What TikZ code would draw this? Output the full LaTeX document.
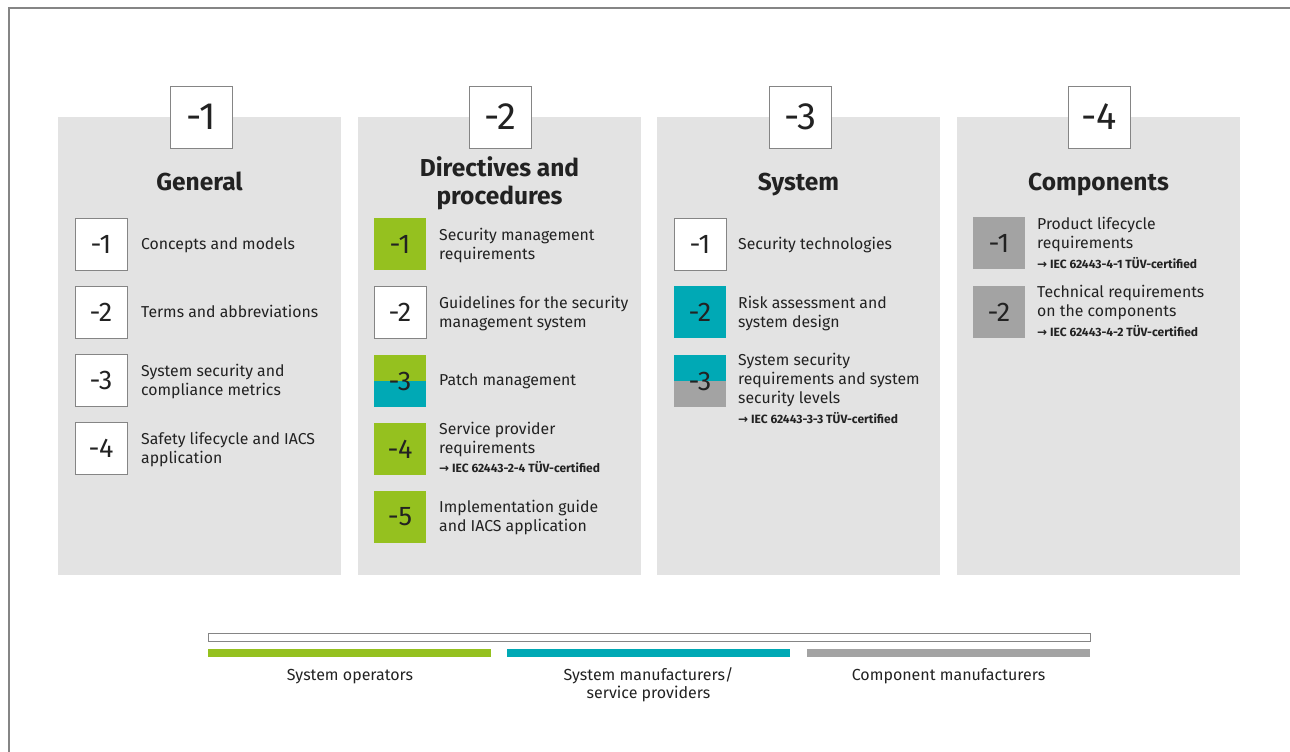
\documentclass[tikz,border=0pt]{standalone}
\usepackage{fontspec}
\setmainfont{Fira Sans}
\newfontfamily\symfont{DejaVu Sans}
\definecolor{colbg}{HTML}{E3E3E3}
\definecolor{grn}{HTML}{95C11F}
\definecolor{tea}{HTML}{00A9B5}
\definecolor{gry}{HTML}{A3A3A3}
\definecolor{frm}{HTML}{858585}
\definecolor{txt}{HTML}{222222}
\begin{document}
\begin{tikzpicture}[x=1pt,y=-1pt,
  colbox/.style={fill=colbg,draw=none,minimum width=283pt,minimum height=458pt,anchor=north west,inner sep=0},
  hdrbox/.style={fill=white,draw=frm,line width=0.8pt,minimum size=62pt,inner sep=0,text=txt,font=\fontsize{38}{38}\selectfont},
  ibox/.style={draw=frm,line width=0.8pt,fill=white,minimum size=52pt,inner sep=0,text=txt,font=\fontsize{27}{27}\selectfont},
  gbox/.style={ibox,draw=none,fill=grn},
  tbox/.style={ibox,draw=none,fill=tea},
  qbox/.style={ibox,draw=none,fill=gry},
  split/.style 2 args={ibox,draw=none,path picture={
     \fill[#1] (path picture bounding box.north west) rectangle (path picture bounding box.east);
     \fill[#2] (path picture bounding box.west) rectangle (path picture bounding box.south east);}},
  title/.style={anchor=base,align=center,inner sep=0,text=txt,font=\fontsize{24.5}{28}\selectfont\bfseries},
  itext/.style={anchor=base west,align=left,inner sep=0,text=txt,font=\fontsize{15.8}{19}\selectfont},
  cert/.style={anchor=base west,inner sep=0,text=txt,font=\fontsize{12}{12}\selectfont\bfseries},
  leg/.style={anchor=base,align=center,inner sep=0,text=txt,font=\fontsize{16}{18}\selectfont}]
\useasboundingbox (0,0) rectangle (1290,752);
% frame
\draw[frm,line width=1.5pt] (9,760) -- (9,8) -- (1300,8);
% columns
\node[colbox] (col1) at (58,117) {};
\node[colbox] (col2) at (358,117) {};
\node[colbox] (col3) at (657,117) {};
\node[colbox] (col4) at (957,117) {};
\node[hdrbox] (h1) at (201,117) {-1};
\node[hdrbox] (h2) at (500,117) {-2};
\node[hdrbox] (h3) at (800,117) {-3};
\node[hdrbox] (h4) at (1099,117) {-4};
\node[title] (tt1) at (199.5,190.5) {General};
\node[title] (tt2) at (499.5,204.5) {Directives and\\procedures};
\node[title] (tt3) at (798.5,190.5) {System};
\node[title] (tt4) at (1098.5,190.5) {Components};
% column 1
\node[ibox] (b11) at (101,244) {-1};
\node[ibox] (b12) at (101,312) {-2};
\node[ibox] (b13) at (101,380) {-3};
\node[ibox] (b14) at (101,448) {-4};
\node[itext] (t11) at (141,249) {Concepts and models};
\node[itext] (t12) at (141,317) {Terms and abbreviations};
\node[itext] (t13) at (141,395) {System security and\\compliance metrics};
\node[itext] (t14) at (141,463) {Safety lifecycle and IACS\\application};
% column 2
\node[gbox] (b21) at (400,244) {-1};
\node[ibox] (b22) at (400,312) {-2};
\node[split={grn}{tea}] (b23) at (400,381) {-3};
\node[gbox] (b24) at (400,449) {-4};
\node[gbox] (b25) at (400,517) {-5};
\node[itext] (t21) at (439,259) {Security management\\requirements};
\node[itext] (t22) at (439,327) {Guidelines for the security\\management system};
\node[itext] (t23) at (439,385) {Patch management};
\node[itext] (t24) at (439,453) {Service provider\\requirements};
\node[cert] (c24) at (439,472) {{\symfont →} IEC 62443-2-4 TÜV-certified};
\node[itext] (t25) at (439,531) {Implementation guide\\and IACS application};
% column 3
\node[ibox] (b31) at (700,244) {-1};
\node[tbox] (b32) at (700,312) {-2};
\node[split={tea}{gry}] (b33) at (700,381) {-3};
\node[itext] (t31) at (738,249) {Security technologies};
\node[itext] (t32) at (738,327) {Risk assessment and\\system design};
\node[itext] (t33) at (738,403) {System security\\requirements and system\\security levels};
\node[cert] (c33) at (738,423) {{\symfont →} IEC 62443-3-3 TÜV-certified};
% column 4
\node[qbox] (b41) at (999,243) {-1};
\node[qbox] (b42) at (999,312) {-2};
\node[itext] (t41) at (1037,248) {Product lifecycle\\requirements};
\node[cert] (c41) at (1037,268) {{\symfont →} IEC 62443-4-1 TÜV-certified};
\node[itext] (t42) at (1037,316) {Technical requirements\\on the components};
\node[cert] (c42) at (1037,336) {{\symfont →} IEC 62443-4-2 TÜV-certified};
% legend
\draw[frm,line width=0.8pt,fill=white] (208,633) rectangle (1090,641);
\fill[grn] (208,649) rectangle (491,657);
\fill[tea] (507,649) rectangle (790,657);
\fill[gry] (807,649) rectangle (1090,657);
\node[leg] (l1) at (350,680.5) {System operators};
\node[leg] (l2) at (648.5,698.5) {System manufacturers/\\service providers};
\node[leg] (l3) at (948.5,680.5) {Component manufacturers};
\end{tikzpicture}
\end{document}
